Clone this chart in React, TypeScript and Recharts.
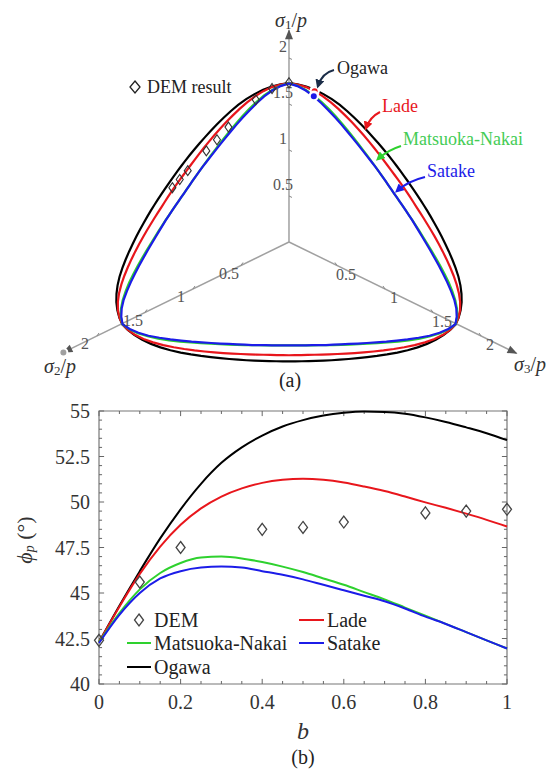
import React from 'react';
import { ComposedChart, Line, Scatter, XAxis, YAxis, ReferenceLine, ReferenceArea } from 'recharts';

// ---------- data ----------
const bValues = [0, 0.05, 0.1, 0.15, 0.2, 0.25, 0.3, 0.35, 0.4, 0.45, 0.5, 0.55, 0.6, 0.65, 0.7, 0.75, 0.8, 0.85, 0.9, 0.95, 1];
const ogawaPhi = [42.3, 44.3, 46.2, 48.0, 49.6, 51.0, 52.15, 53.0, 53.65, 54.15, 54.5, 54.75, 54.9, 54.97, 54.95, 54.85, 54.65, 54.4, 54.1, 53.78, 53.4];
const ladePhi = [42.3, 44.25, 46.05, 47.55, 48.75, 49.65, 50.3, 50.75, 51.05, 51.22, 51.28, 51.22, 51.07, 50.85, 50.6, 50.3, 49.98, 49.68, 49.36, 49.02, 48.65];
const mnPhi = [42.3, 43.9, 45.2, 46.1, 46.65, 46.95, 47.0, 46.9, 46.7, 46.45, 46.15, 45.8, 45.45, 45.05, 44.65, 44.2, 43.75, 43.3, 42.85, 42.4, 41.95];
const satakePhi = [42.25, 43.8, 45.0, 45.8, 46.2, 46.4, 46.45, 46.4, 46.2, 46.0, 45.75, 45.45, 45.15, 44.85, 44.55, 44.15, 43.7, 43.3, 42.85, 42.4, 41.95];
const demB = [0, 0.1, 0.2, 0.4, 0.5, 0.6, 0.8, 0.9, 1];
const demPhi = [42.4, 45.6, 47.5, 48.5, 48.6, 48.9, 49.4, 49.5, 49.6];

const bTicks = [0, 0.2, 0.4, 0.6, 0.8, 1];
const phiTicks = [40, 42.5, 45, 47.5, 50, 52.5, 55];
const piAxisTicks = [0.5, 1, 1.5, 2];
const piTickLabels = ['0.5', '1', '1.5', '2'];
const piAxisLengths = [2.3, 2.35, 2.37];

// ---------- styling ----------
const FONT = 'Liberation Serif';
const C_OGAWA = '#000000';
const C_LADE = '#e8161c';
const C_MN = '#2ed12e';
const C_SATAKE = '#1c1ce8';
const C_AXIS = '#a0a0a0';

// oblique view of the three principal-stress axes (sigma1 up, sigma2 lower-left, sigma3 lower-right)
const AX = [
  [0, 1],
  [-96 / 92, -47 / 92],
  [96 / 92, -47 / 92],
];

function project(s: number[]) {
  return {
    x: s[0] * AX[0][0] + s[1] * AX[1][0] + s[2] * AX[2][0],
    y: s[0] * AX[0][1] + s[1] * AX[1][1] + s[2] * AX[2][1],
  };
}

// principal stresses (p = 1) for a given b and peak friction angle
function principal(b: number, phiDeg: number) {
  const sn = Math.sin((phiDeg * Math.PI) / 180);
  const R = (1 + sn) / (1 - sn);
  const s3 = 3 / (R + 2 + b * (R - 1));
  const s1 = R * s3;
  const s2 = s3 + b * (s1 - s3);
  return [s1, s2, s3];
}

const sectors = [
  { maj: 0, mid: 2, min: 1, rev: false },
  { maj: 2, mid: 0, min: 1, rev: true },
  { maj: 2, mid: 1, min: 0, rev: false },
  { maj: 1, mid: 2, min: 0, rev: true },
  { maj: 1, mid: 0, min: 2, rev: false },
  { maj: 0, mid: 1, min: 2, rev: true },
];

function piCurve(phis: number[]) {
  const pts: { x: number; y: number }[] = [];
  sectors.forEach((sec) => {
    const idx = bValues.map((_, i) => i);
    if (sec.rev) idx.reverse();
    idx.forEach((i) => {
      const [a, m, n] = principal(bValues[i], phis[i]);
      const s = [0, 0, 0];
      s[sec.maj] = a;
      s[sec.mid] = m;
      s[sec.min] = n;
      pts.push(project(s));
    });
  });
  return pts;
}

const piOgawa = piCurve(ogawaPhi);
const piLade = piCurve(ladePhi);
const piMN = piCurve(mnPhi);
const piSatake = piCurve(satakePhi);
const piDEM = demB.map((b, i) => {
  const [a, m, n] = principal(b, demPhi[i]);
  return project([a, m, n]);
});

const axisLines = [0, 1, 2].map((i) => {
  const s = [0, 0, 0];
  s[i] = piAxisLengths[i];
  return [{ x: 0, y: 0 }, project(s)];
});
const arrowTips = [0, 1, 2].map((i) => {
  const s = [0, 0, 0];
  s[i] = piAxisLengths[i];
  const p = project(s);
  return { ...p, angle: (Math.atan2(-AX[i][1], AX[i][0]) * 180) / Math.PI };
});
const piTickData: any[] = [];
[0, 1, 2].forEach((ax) => {
  piAxisTicks.forEach((k, j) => {
    const s = [0, 0, 0];
    s[ax] = k;
    piTickData.push({ ...project(s), label: piTickLabels[j], axis: ax });
  });
});

const chartB = bValues.map((b, i) => ({ b, ogawa: ogawaPhi[i], lade: ladePhi[i], mn: mnPhi[i], satake: satakePhi[i] }));
const demData = demB.map((b, i) => ({ b, phi: demPhi[i] }));

// ---------- shapes ----------
const PiTick = (props: any) => {
  const { cx, cy, payload } = props;
  const ax = payload.axis;
  let t: number[];
  let lx: number;
  let ly: number;
  if (ax === 0) {
    t = [cx, cy, cx + 3, cy + 1.5];
    lx = cx - 6;
    ly = cy - 11;
  } else if (ax === 1) {
    t = [cx, cy, cx + 2, cy - 3];
    lx = cx - 12;
    ly = cy + 8;
  } else {
    t = [cx, cy, cx - 2, cy - 3];
    lx = cx + 9;
    ly = cy + 9;
  }
  return (
    <g>
      <line x1={t[0]} y1={t[1]} x2={t[2]} y2={t[3]} stroke="#888" strokeWidth={1} />
      <text x={lx} y={ly} textAnchor="middle" dominantBaseline="central" fontFamily={FONT} style={{ fontFamily: FONT }} fontSize={16} fill="#555">
        {payload.label}
      </text>
    </g>
  );
};

const ArrowHead = (props: any) => {
  const { cx, cy, payload } = props;
  return (
    <polygon points="1,0 -9,-4 -9,4" transform={`translate(${cx},${cy}) rotate(${payload.angle})`} fill="#555" />
  );
};

const DiamondSmall = (props: any) => {
  const { cx, cy } = props;
  return (
    <polygon
      points={`${cx},${cy - 5} ${cx + 3.5},${cy} ${cx},${cy + 5} ${cx - 3.5},${cy}`}
      fill="none"
      stroke="#333"
      strokeWidth={1.1}
    />
  );
};

const Diamond = (props: any) => {
  const { cx, cy } = props;
  return (
    <polygon
      points={`${cx},${cy - 6} ${cx + 4.5},${cy} ${cx},${cy + 6} ${cx - 4.5},${cy}`}
      fill="none"
      stroke="#444"
      strokeWidth={1.3}
    />
  );
};

// ---------- component ----------
export default function App() {
  const xMinor = Array.from({ length: 21 }, (_, k) => ({ v: k * 0.05, major: k % 4 === 0 }));
  const yMinor = Array.from({ length: 31 }, (_, k) => ({ v: 40 + k * 0.5, major: k % 5 === 0 }));
  const tickColor = '#666';
  const txt = { fontFamily: FONT, style: { fontFamily: FONT }, fill: '#222' } as const;
  const tickStyle = { fontFamily: FONT, fontSize: 20, fill: '#333', style: { fontFamily: FONT } };
  const html = (left: number, top: number, size: number, content: React.ReactNode, extra: any = {}) => (
    <div
      style={{
        position: 'absolute',
        left,
        top,
        fontFamily: "'Liberation Serif'",
        fontSize: size,
        lineHeight: 1,
        color: '#222',
        whiteSpace: 'nowrap',
        transform: 'translate(-50%, -50%)',
        ...extra,
      }}
    >
      {content}
    </div>
  );

  return (
    <div style={{ position: 'absolute', left: 0, top: 0, width: 549, height: 769, background: '#fff', overflow: 'hidden', fontFamily: "'Liberation Serif'" }}>
      {/* panel (a) */}
      <div style={{ position: 'absolute', left: 0, top: 0 }}>
        <ComposedChart width={549} height={390} margin={{ top: 0, right: 0, bottom: 0, left: 0 }}>
          <XAxis type="number" dataKey="x" domain={[-3.141, 2.826]} hide />
          <YAxis type="number" domain={[-1.609, 2.63]} hide />
          {axisLines.map((d, i) => (
            <Line key={'ax' + i} data={d} dataKey="y" stroke={C_AXIS} strokeWidth={1.5} dot={false} isAnimationActive={false} type="linear" />
          ))}
          <Scatter data={piTickData} dataKey="y" shape={PiTick} isAnimationActive={false} />
          <Scatter data={arrowTips} dataKey="y" shape={ArrowHead} isAnimationActive={false} />
          <Line data={piOgawa} dataKey="y" stroke={C_OGAWA} strokeWidth={2.2} dot={false} isAnimationActive={false} type="linear" />
          <Line data={piLade} dataKey="y" stroke={C_LADE} strokeWidth={2.2} dot={false} isAnimationActive={false} type="linear" />
          <Line data={piMN} dataKey="y" stroke={C_MN} strokeWidth={2.2} dot={false} isAnimationActive={false} type="linear" />
          <Line data={piSatake} dataKey="y" stroke={C_SATAKE} strokeWidth={2.2} dot={false} isAnimationActive={false} type="linear" />
          <Scatter data={piDEM} dataKey="y" shape={DiamondSmall} isAnimationActive={false} />
        </ComposedChart>
      </div>

      {/* panel (b) */}
      <div style={{ position: 'absolute', left: 0, top: 390 }}>
        <ComposedChart width={549} height={379} data={chartB} margin={{ top: 21, right: 42, bottom: 55, left: 0 }}>
          <XAxis
            type="number"
            dataKey="b"
            domain={[0, 1]}
            ticks={bTicks}
            height={30}
            tickSize={0}
            tickMargin={11}
            axisLine={false}
            tickLine={false}
            tick={tickStyle}
          />
          <YAxis
            type="number"
            domain={[40, 55]}
            ticks={phiTicks}
            width={99}
            tickSize={0}
            tickMargin={9}
            axisLine={false}
            tickLine={false}
            tick={tickStyle}
          />
          <ReferenceArea x1={0} x2={1} y1={40} y2={55} fill="none" fillOpacity={0} stroke="#777" strokeWidth={1.2} ifOverflow="visible" />
          {xMinor.map((t, i) => (
            <ReferenceLine key={'xb' + i} segment={[{ x: t.v, y: 40 }, { x: t.v, y: 40 + (t.major ? 0.28 : 0.165) }]} stroke={tickColor} ifOverflow="visible" />
          ))}
          {xMinor.map((t, i) => (
            <ReferenceLine key={'xt' + i} segment={[{ x: t.v, y: 55 }, { x: t.v, y: 55 - (t.major ? 0.28 : 0.165) }]} stroke={tickColor} ifOverflow="visible" />
          ))}
          {yMinor.map((t, i) => (
            <ReferenceLine key={'yl' + i} segment={[{ x: 0, y: t.v }, { x: t.major ? 0.0125 : 0.0075, y: t.v }]} stroke={tickColor} ifOverflow="visible" />
          ))}
          {yMinor.map((t, i) => (
            <ReferenceLine key={'yr' + i} segment={[{ x: 1, y: t.v }, { x: 1 - (t.major ? 0.0125 : 0.0075), y: t.v }]} stroke={tickColor} ifOverflow="visible" />
          ))}
          <Line dataKey="ogawa" stroke={C_OGAWA} strokeWidth={2} dot={false} isAnimationActive={false} type="monotone" />
          <Line dataKey="lade" stroke={C_LADE} strokeWidth={2} dot={false} isAnimationActive={false} type="monotone" />
          <Line dataKey="mn" stroke={C_MN} strokeWidth={2} dot={false} isAnimationActive={false} type="monotone" />
          <Line dataKey="satake" stroke={C_SATAKE} strokeWidth={2} dot={false} isAnimationActive={false} type="monotone" />
          <Scatter data={demData} dataKey="phi" shape={Diamond} isAnimationActive={false} />
        </ComposedChart>
      </div>

      {/* annotations (svg part) */}
      <svg width={549} height={769} style={{ position: 'absolute', left: 0, top: 0, pointerEvents: 'none' }}>
        <defs>
          {[
            ['ah-navy', '#1b2d48'],
            ['ah-red', C_LADE],
            ['ah-green', C_MN],
            ['ah-blue', C_SATAKE],
          ].map(([id, c]) => (
            <marker key={id} id={id} viewBox="0 0 10 10" refX="7" refY="5" markerWidth="9" markerHeight="9" markerUnits="userSpaceOnUse" orient="auto">
              <path d="M0,0 L10,5 L0,10 z" fill={c} />
            </marker>
          ))}
        </defs>

        {/* panel (a) axis titles */}
        <text x={291} y={20} textAnchor="middle" dominantBaseline="central" {...txt} fontSize={20} fill="#333">
          <tspan fontStyle="italic">σ</tspan>
          <tspan fontSize={13} dy={4}>1</tspan>
          <tspan dy={-4}>/</tspan>
          <tspan fontStyle="italic">p</tspan>
        </text>
        <text x={60} y={366} textAnchor="middle" dominantBaseline="central" {...txt} fontSize={20} fill="#333">
          <tspan fontStyle="italic">σ</tspan>
          <tspan fontSize={13} dy={4}>2</tspan>
          <tspan dy={-4}>/</tspan>
          <tspan fontStyle="italic">p</tspan>
        </text>
        <text x={514} y={364} textAnchor="start" dominantBaseline="central" {...txt} fontSize={20} fill="#333">
          <tspan fontStyle="italic">σ</tspan>
          <tspan fontSize={13} dy={4}>3</tspan>
          <tspan dy={-4}>/</tspan>
          <tspan fontStyle="italic">p</tspan>
        </text>

        {/* panel (a) legend marker + callout arrows */}
        <polygon points="135,81 140,87 135,93 130,87" fill="none" stroke="#222" strokeWidth={1.3} />
        <path d="M334,70 Q322,73 318,86" fill="none" stroke="#1b2d48" strokeWidth={2} markerEnd="url(#ah-navy)" />
        <path d="M380,112 Q370,117 366,128" fill="none" stroke={C_LADE} strokeWidth={2} markerEnd="url(#ah-red)" />
        <path d="M401,146 Q388,150 378,159" fill="none" stroke={C_MN} strokeWidth={2} markerEnd="url(#ah-green)" />
        <path d="M425,177 Q408,181 397,191" fill="none" stroke={C_SATAKE} strokeWidth={2} markerEnd="url(#ah-blue)" />

        {/* panel (b) axis titles */}
        <text transform="translate(24,540) rotate(-90)" textAnchor="middle" dominantBaseline="central" {...txt} fontSize={22} fill="#333">
          <tspan fontStyle="italic">ϕ</tspan>
          <tspan fontStyle="italic" fontSize={14} dy={5}>p</tspan>
          <tspan dy={-5}> (°)</tspan>
        </text>

        {/* panel (b) legend marks */}
        <polygon points="139,614 143.5,620 139,626 134.5,620" fill="none" stroke="#444" strokeWidth={1.3} />
        <line x1={299} y1={620} x2={324} y2={620} stroke={C_LADE} strokeWidth={2} />
        <line x1={127} y1={643} x2={151} y2={643} stroke={C_MN} strokeWidth={2} />
        <line x1={299} y1={643} x2={324} y2={643} stroke={C_SATAKE} strokeWidth={2} />
        <line x1={127} y1={667} x2={151} y2={667} stroke={C_OGAWA} strokeWidth={2} />
      </svg>

      {/* annotations (html text) */}
      {html(290, 380, 20, '(a)')}
      {html(303, 757, 20, '(b)')}
      {html(303, 731, 24, 'b', { fontStyle: 'italic', color: '#333' })}
      {html(147, 87, 18, 'DEM result', { transform: 'translate(0, -50%)' })}
      {html(337, 68, 18, 'Ogawa', { transform: 'translate(0, -50%)' })}
      {html(382, 106, 18, 'Lade', { transform: 'translate(0, -50%)', color: C_LADE })}
      {html(403, 139, 18, 'Matsuoka-Nakai', { transform: 'translate(0, -50%)', color: '#44cc55' })}
      {html(427, 171, 18, 'Satake', { transform: 'translate(0, -50%)', color: C_SATAKE })}
      {html(154, 620, 20, 'DEM', { transform: 'translate(0, -50%)' })}
      {html(327, 620, 20, 'Lade', { transform: 'translate(0, -50%)' })}
      {html(154, 643, 20, 'Matsuoka-Nakai', { transform: 'translate(0, -50%)' })}
      {html(327, 643, 20, 'Satake', { transform: 'translate(0, -50%)' })}
      {html(154, 667, 20, 'Ogawa', { transform: 'translate(0, -50%)' })}
    </div>
  );
}
